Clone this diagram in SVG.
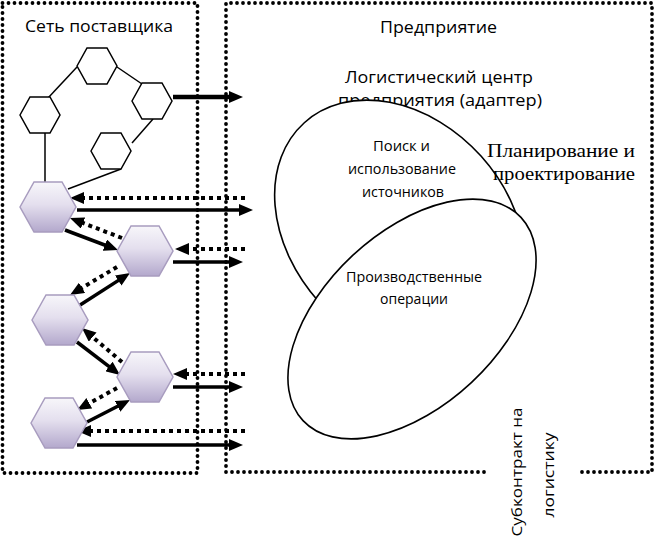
<svg xmlns="http://www.w3.org/2000/svg" width="655" height="542" viewBox="0 0 655 542">
<style>
.bd{fill:none;stroke:#000;stroke-width:3.8;stroke-dasharray:0 6;stroke-linecap:round}
.thin{fill:none;stroke:#000;stroke-width:1.5}
.sa{fill:none;stroke:#000;stroke-width:3.5;marker-end:url(#ah)}
.da{fill:none;stroke:#000;stroke-width:4;stroke-dasharray:4 4;marker-end:url(#ah)}
.wh{fill:#fff;stroke:#000;stroke-width:1.5}
.ph{fill:url(#pg);stroke:#a89cbf;stroke-width:1.5}
.el{fill:#fff;stroke:#000;stroke-width:1.6}
.s{font-family:"Open Sans","Liberation Sans",sans-serif;fill:#000;font-weight:400}
.t{font-family:"Liberation Serif","Times New Roman",serif;fill:#000;font-weight:400}
</style>
<defs>
<linearGradient id="pg" x1="0" y1="0" x2="0" y2="1">
<stop offset="0" stop-color="#f7f6fa"/>
<stop offset="0.45" stop-color="#e4dfee"/>
<stop offset="1" stop-color="#b3a8cc"/>
</linearGradient>
<marker id="ah" markerUnits="userSpaceOnUse" markerWidth="14" markerHeight="12" viewBox="0 0 14 12" refX="4" refY="6" orient="auto">
<path d="M0,0 L14,6 L0,12 Z" fill="#000"/>
</marker>
<path id="hw" d="M-20,0 L-10,-18 L10,-18 L20,0 L10,18 L-10,18 Z"/>
<path id="hp" d="M-28,0 L-14,-25 L14,-25 L28,0 L14,25 L-14,25 Z"/>
</defs>

<g id="boundaries">
<rect class="bd" x="2.5" y="3" width="195" height="470"/>
<path class="bd" d="M484,472 L226,472 L226,3 L652,3 L652,472 L578,472"/>
</g>

<g id="labels-top">
<text class="s" x="25" y="32" font-size="17" textLength="148" lengthAdjust="spacingAndGlyphs">Сеть поставщика</text>
<text class="s" x="380" y="33" font-size="17" textLength="117" lengthAdjust="spacingAndGlyphs">Предприятие</text>
<text class="s" x="345" y="83" font-size="17" textLength="188" lengthAdjust="spacingAndGlyphs">Логистический центр</text>
<text class="s" x="338" y="106" font-size="17" textLength="204" lengthAdjust="spacingAndGlyphs">предприятия (адаптер)</text>
</g>

<g id="connectors">
<line class="thin" x1="48" y1="98" x2="77" y2="67"/>
<line class="thin" x1="117" y1="67" x2="142" y2="84"/>
<line class="thin" x1="153" y1="119" x2="132" y2="143"/>
<line class="thin" x1="45" y1="133" x2="45" y2="182"/>
<line class="thin" x1="121" y1="169" x2="68" y2="189"/>
<line fill="none" stroke="#000" stroke-width="4.5" x1="173" y1="97" x2="233" y2="97" marker-end="url(#ah)"/>
<line class="da" x1="245" y1="198" x2="80" y2="198"/>
<line class="sa" x1="77" y1="210" x2="243" y2="210"/>
<line class="sa" x1="65" y1="230" x2="108.6" y2="246.5"/>
<line class="da" x1="122" y1="238" x2="79.3" y2="221.6"/>
<line class="da" x1="245" y1="249" x2="185" y2="249"/>
<line class="sa" x1="173" y1="262" x2="233" y2="262"/>
<line class="da" x1="117" y1="267" x2="78.6" y2="289.9"/>
<line class="sa" x1="77" y1="307" x2="121.6" y2="278.4"/>
<line class="da" x1="122" y1="362" x2="89.6" y2="334.5"/>
<line class="sa" x1="77" y1="342" x2="112.1" y2="368.9"/>
<line class="da" x1="245" y1="374" x2="183" y2="374"/>
<line class="sa" x1="173" y1="387" x2="233" y2="387"/>
<line class="da" x1="117" y1="388" x2="85.8" y2="405.2"/>
<line class="sa" x1="87" y1="422" x2="121.1" y2="404.5"/>
<line class="da" x1="245" y1="431" x2="87" y2="431"/>
<line class="sa" x1="77" y1="445" x2="233" y2="445"/>
</g>

<g id="h1"><use href="#hw" class="wh" transform="translate(97,66)"/></g>
<g id="h2"><use href="#hw" class="wh" transform="translate(40,115)"/></g>
<g id="h3"><use href="#hw" class="wh" transform="translate(152,101)"/></g>
<g id="h4"><use href="#hw" class="wh" transform="translate(111,151)"/></g>
<g id="p1"><use href="#hp" class="ph" transform="translate(48,207)"/></g>
<g id="p2"><use href="#hp" class="ph" transform="translate(145,251)"/></g>
<g id="p3"><use href="#hp" class="ph" transform="translate(60,320)"/></g>
<g id="p4"><use href="#hp" class="ph" transform="translate(145,377)"/></g>
<g id="p5"><use href="#hp" class="ph" transform="translate(59,423)"/></g>

<g id="sourcing">
<ellipse class="el" cx="0" cy="0" rx="143" ry="109" transform="translate(400,229) rotate(48)"/>
</g>
<g id="production">
<ellipse class="el" cx="0" cy="0" rx="149" ry="87" transform="translate(412,319) rotate(-43)"/>
<text class="s" x="346" y="282" font-size="14" textLength="136" lengthAdjust="spacingAndGlyphs">Производственные</text>
<text class="s" x="380" y="304" font-size="14" textLength="68" lengthAdjust="spacingAndGlyphs">операции</text>
</g>
<g id="sourcing-text">
<text class="s" x="373" y="151" font-size="14" textLength="57" lengthAdjust="spacingAndGlyphs">Поиск и</text>
<text class="s" x="348" y="174" font-size="14" textLength="108" lengthAdjust="spacingAndGlyphs">использование</text>
<text class="s" x="362" y="197" font-size="14" textLength="82" lengthAdjust="spacingAndGlyphs">источников</text>
</g>

<g id="planning">
<text class="t" x="487" y="157" font-size="19" textLength="148" lengthAdjust="spacingAndGlyphs">Планирование  и</text>
<text class="t" x="493" y="180" font-size="19" textLength="142" lengthAdjust="spacingAndGlyphs">проектирование</text>
</g>

<g id="subcontract">
<text class="s" font-size="15" text-anchor="middle" textLength="129" lengthAdjust="spacingAndGlyphs" transform="translate(522,472) rotate(-90)">Субконтракт на</text>
<text class="s" font-size="15" text-anchor="middle" textLength="85" lengthAdjust="spacingAndGlyphs" transform="translate(554,475) rotate(-90)">логистику</text>
</g>
</svg>
